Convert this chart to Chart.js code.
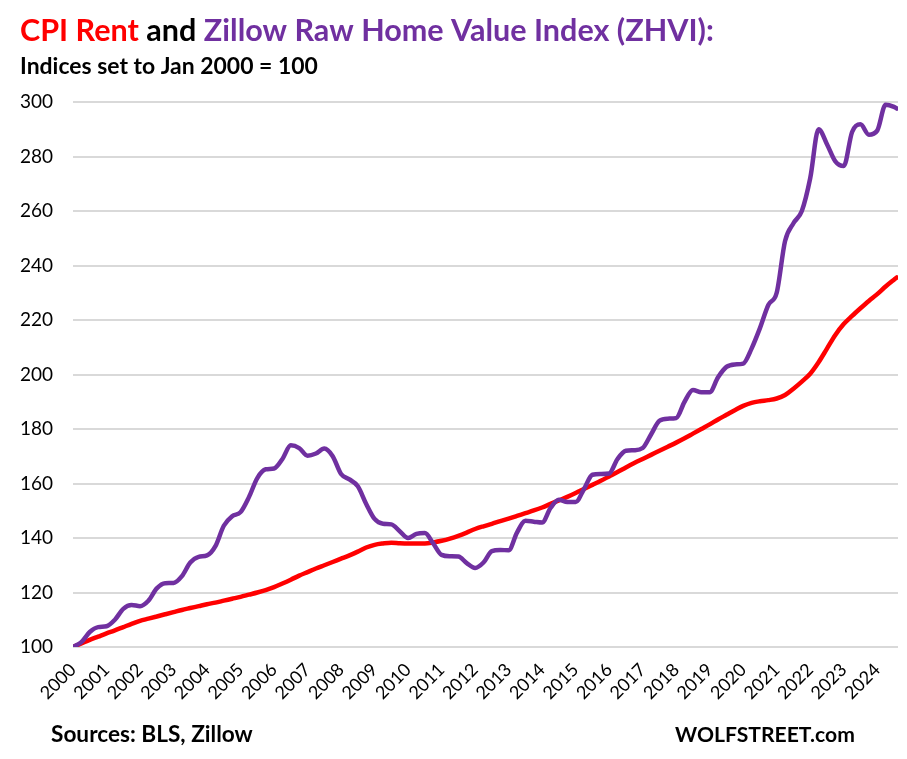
<!DOCTYPE html>
<html>
<head>
<meta charset="utf-8">
<script src="https://cdn.jsdelivr.net/npm/chart.js@4"></script>
<style>
  html, body { margin: 0; padding: 0; background: #fff; }
  #wrap { position: relative; width: 907px; height: 759px; }
</style>
</head>
<body>
<div id="wrap"><canvas id="chart"></canvas></div>
<script>
// Quarterly readings (Jan, Apr, Jul, Oct), last point Aug 2024
const zhvi = [
    100, 101.8, 105.5, 107.3,
    107.6, 110, 114, 115.4,
    115, 117, 121.5, 123.4,
    123.5, 126, 131, 133.1,
    133.6, 137, 144.5, 148,
    149.5, 155, 162, 165.2,
    165.5, 169, 174, 173,
    170.2, 171, 172.8, 170,
    163.5, 161.5, 159, 152.5,
    147, 145.2, 145, 142.5,
    140, 141.5, 141.8, 138,
    133.8, 133.3, 133.2, 130.8,
    129, 131, 135.2, 135.6,
    135.5, 142, 146.3, 146,
    145.7, 151, 154, 153.2,
    153.2, 158, 163.2, 163.5,
    163.7, 169, 172, 172.2,
    173, 178, 183, 183.8,
    184, 190, 194.3, 193.5,
    193.5, 199, 202.8, 203.7,
    204, 209.5, 217, 225.5,
    230, 249, 255.5, 260,
    272, 290, 284.5, 278.2,
    276.5, 289, 291.8, 288,
    289.5, 299, 298.2, 297.6
];

const cpiRent = [
    100, 101.3, 102.6, 103.8,
    105, 106.1, 107.3, 108.5,
    109.6, 110.4, 111.2, 112,
    112.8, 113.6, 114.3, 115,
    115.7, 116.3, 117, 117.7,
    118.4, 119.2, 120, 120.9,
    122, 123.3, 124.7, 126.2,
    127.5, 128.8, 130, 131.2,
    132.4, 133.6, 135, 136.5,
    137.5, 138, 138.3, 138.1,
    138, 138, 138, 138.4,
    139, 139.8, 140.8, 142,
    143.3, 144.3, 145.2, 146.2,
    147.1, 148.1, 149.1, 150.1,
    151.2, 152.5, 153.8, 155.1,
    156.5, 158, 159.5, 161,
    162.6, 164.2, 165.9, 167.5,
    169, 170.5, 172, 173.5,
    175, 176.6, 178.3, 180,
    181.7, 183.5, 185.2, 186.9,
    188.5, 189.6, 190.2, 190.6,
    191.2, 192.5, 194.8, 197.4,
    200.3, 204.5, 209.5, 214.5,
    218.5, 221.5, 224.3, 227,
    229.5, 232.3, 234.8, 235.6
];

const yTicks = [100, 120, 140, 160, 180, 200, 220, 240, 260, 280, 300];
const firstYear = 2000;
const lastYear = 2024;

// month labels for each reading
const months = [];
for (let y = firstYear; y <= lastYear; y++) {
    [1, 4, 7, 10].forEach(m => {
        if (y < lastYear || m <= 7) months.push(y + '-' + String(m).padStart(2, '0'));
    });
}
months.push('2024-08');

const yearTicks = [];
for (let y = firstYear; y <= lastYear; y++) yearTicks.push(y);

function toYear(label) {
    const [y, m] = label.split('-').map(Number);
    return y + (m - 1) / 12;
}

const RED = '#ff0000';
const PURPLE = '#7030a0';
const FONT = "Lato, 'Open Sans', sans-serif";

function fitSize(ctx, text, width) {
    ctx.font = 'bold 100px ' + FONT;
    return 100 * width / ctx.measureText(text).width;
}

function drawParts(ctx, parts, x, y, width) {
    const whole = parts.map(p => p[0]).join('');
    const size = fitSize(ctx, whole, width);
    ctx.font = 'bold ' + size + 'px ' + FONT;
    ctx.textBaseline = 'alphabetic';
    ctx.textAlign = 'left';
    parts.forEach(p => {
        ctx.fillStyle = p[1];
        ctx.fillText(p[0], x, y);
        x += ctx.measureText(p[0]).width;
    });
}

const textPlugin = {
    id: 'texts',
    afterDraw(chart) {
        const ctx = chart.ctx;
        ctx.save();
        drawParts(ctx, [['CPI Rent', RED], [' and ', '#000'], ['Zillow Raw Home Value Index (ZHVI):', PURPLE]], 20, 41, 694);
        drawParts(ctx, [['Indices set to Jan 2000 = 100', '#000']], 20, 74, 298);
        drawParts(ctx, [['Sources: BLS, Zillow', '#000']], 51, 742, 202);
        drawParts(ctx, [['WOLFSTREET.com', '#000']], 675, 742, 180);
        ctx.restore();
    }
};

new Chart(document.getElementById('chart'), {
    type: 'line',
    data: {
        datasets: [{
            label: 'Zillow Raw Home Value Index (ZHVI)',
            data: months.map((m, i) => ({ x: toYear(m), y: zhvi[i] })),
            borderColor: PURPLE,
            borderWidth: 4.5,
            pointRadius: 0,
            cubicInterpolationMode: 'monotone',
            borderCapStyle: 'round',
            borderJoinStyle: 'round'
        }, {
            label: 'CPI Rent',
            data: months.map((m, i) => ({ x: toYear(m), y: cpiRent[i] })),
            borderColor: RED,
            borderWidth: 4.5,
            pointRadius: 0,
            cubicInterpolationMode: 'monotone',
            borderCapStyle: 'round',
            borderJoinStyle: 'round'
        }]
    },
    options: {
        responsive: true,
        maintainAspectRatio: false,
        animation: false,
        layout: { padding: { top: 102, left: 20, right: 9, bottom: 52 } },
        plugins: {
            legend: { display: false },
            tooltip: { enabled: false }
        },
        scales: {
            x: {
                type: 'linear',
                min: firstYear,
                max: 2024.62,
                afterBuildTicks: scale => {
                    scale.ticks = yearTicks.map(v => ({ value: v }));
                },
                afterFit: scale => { scale.height = 60; },
                ticks: {
                    autoSkip: false,
                    minRotation: 45,
                    maxRotation: 45,
                    padding: 4,
                    color: '#000',
                    font: { family: FONT, size: 18 },
                    callback: v => String(v)
                },
                grid: { display: false },
                border: { display: false }
            },
            y: {
                min: 100,
                max: 300,
                afterBuildTicks: scale => {
                    scale.ticks = yTicks.map(v => ({ value: v }));
                },
                afterFit: scale => { scale.width = 53; },
                ticks: {
                    padding: 20,
                    color: '#000',
                    font: { family: FONT, size: 19 }
                },
                grid: { color: '#d9d9d9', lineWidth: 2, drawTicks: false },
                border: { display: false }
            }
        }
    },
    plugins: [textPlugin]
});
</script>
</body>
</html>
